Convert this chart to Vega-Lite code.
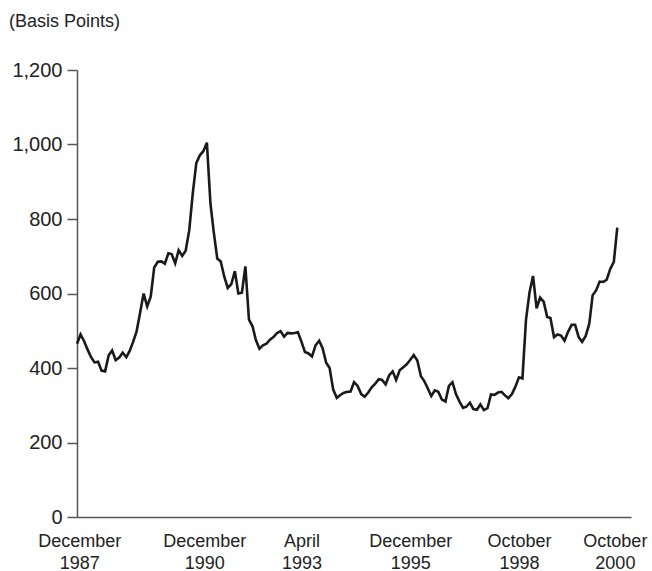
{
  "$schema": "https://vega.github.io/schema/vega-lite/v6.json",
  "autosize": {"type": "none"},
  "padding": {"left": 77, "top": 70, "right": 21, "bottom": 54},
  "width": 554,
  "height": 447,
  "background": "white",
  "title": {
    "text": "(Basis Points)",
    "anchor": "start",
    "frame": "group",
    "dx": -68,
    "offset": 15,
    "baseline": "alphabetic",
    "font": "Liberation Sans",
    "fontSize": 18,
    "fontWeight": "normal",
    "color": "#222222"
  },
  "config": {
    "view": {"stroke": null},
    "axis": {"grid": false, "labelFont": "Liberation Sans", "labelColor": "#222222", "domainColor": "#555555", "tickColor": "#555555", "domainWidth": 1.5, "tickWidth": 1.5}
  },
  "data": {
    "values": [
      {"date": "1987-12-01", "spread": 465}, {"date": "1988-01-01", "spread": 490}, {"date": "1988-02-01", "spread": 472}, {"date": "1988-03-01", "spread": 450},
      {"date": "1988-04-01", "spread": 429}, {"date": "1988-05-01", "spread": 415}, {"date": "1988-06-01", "spread": 417}, {"date": "1988-07-01", "spread": 393},
      {"date": "1988-08-01", "spread": 391}, {"date": "1988-09-01", "spread": 434}, {"date": "1988-10-01", "spread": 447}, {"date": "1988-11-01", "spread": 421},
      {"date": "1988-12-01", "spread": 428}, {"date": "1989-01-01", "spread": 441}, {"date": "1989-02-01", "spread": 429}, {"date": "1989-03-01", "spread": 445},
      {"date": "1989-04-01", "spread": 470}, {"date": "1989-05-01", "spread": 498}, {"date": "1989-06-01", "spread": 549}, {"date": "1989-07-01", "spread": 600},
      {"date": "1989-08-01", "spread": 565}, {"date": "1989-09-01", "spread": 592}, {"date": "1989-10-01", "spread": 670}, {"date": "1989-11-01", "spread": 685},
      {"date": "1989-12-01", "spread": 686}, {"date": "1990-01-01", "spread": 680}, {"date": "1990-02-01", "spread": 708}, {"date": "1990-03-01", "spread": 706},
      {"date": "1990-04-01", "spread": 681}, {"date": "1990-05-01", "spread": 716}, {"date": "1990-06-01", "spread": 701}, {"date": "1990-07-01", "spread": 715},
      {"date": "1990-08-01", "spread": 770}, {"date": "1990-09-01", "spread": 870}, {"date": "1990-10-01", "spread": 950}, {"date": "1990-11-01", "spread": 971},
      {"date": "1990-12-01", "spread": 982}, {"date": "1991-01-01", "spread": 1005}, {"date": "1991-02-01", "spread": 841}, {"date": "1991-03-01", "spread": 766},
      {"date": "1991-04-01", "spread": 694}, {"date": "1991-05-01", "spread": 686}, {"date": "1991-06-01", "spread": 645}, {"date": "1991-07-01", "spread": 615},
      {"date": "1991-08-01", "spread": 625}, {"date": "1991-09-01", "spread": 660}, {"date": "1991-10-01", "spread": 600}, {"date": "1991-11-01", "spread": 602},
      {"date": "1991-12-01", "spread": 673}, {"date": "1992-01-01", "spread": 530}, {"date": "1992-02-01", "spread": 512}, {"date": "1992-03-01", "spread": 475},
      {"date": "1992-04-01", "spread": 452}, {"date": "1992-05-01", "spread": 461}, {"date": "1992-06-01", "spread": 465}, {"date": "1992-07-01", "spread": 476},
      {"date": "1992-08-01", "spread": 483}, {"date": "1992-09-01", "spread": 494}, {"date": "1992-10-01", "spread": 499}, {"date": "1992-11-01", "spread": 484},
      {"date": "1992-12-01", "spread": 494}, {"date": "1993-01-01", "spread": 493}, {"date": "1993-02-01", "spread": 494}, {"date": "1993-03-01", "spread": 496},
      {"date": "1993-04-01", "spread": 470}, {"date": "1993-05-01", "spread": 443}, {"date": "1993-06-01", "spread": 439}, {"date": "1993-07-01", "spread": 431},
      {"date": "1993-08-01", "spread": 461}, {"date": "1993-09-01", "spread": 473}, {"date": "1993-10-01", "spread": 453}, {"date": "1993-11-01", "spread": 414},
      {"date": "1993-12-01", "spread": 400}, {"date": "1994-01-01", "spread": 342}, {"date": "1994-02-01", "spread": 320}, {"date": "1994-03-01", "spread": 327},
      {"date": "1994-04-01", "spread": 333}, {"date": "1994-05-01", "spread": 336}, {"date": "1994-06-01", "spread": 337}, {"date": "1994-07-01", "spread": 362},
      {"date": "1994-08-01", "spread": 352}, {"date": "1994-09-01", "spread": 330}, {"date": "1994-10-01", "spread": 323}, {"date": "1994-11-01", "spread": 334},
      {"date": "1994-12-01", "spread": 348}, {"date": "1995-01-01", "spread": 358}, {"date": "1995-02-01", "spread": 370}, {"date": "1995-03-01", "spread": 368},
      {"date": "1995-04-01", "spread": 356}, {"date": "1995-05-01", "spread": 380}, {"date": "1995-06-01", "spread": 391}, {"date": "1995-07-01", "spread": 368},
      {"date": "1995-08-01", "spread": 394}, {"date": "1995-09-01", "spread": 402}, {"date": "1995-10-01", "spread": 410}, {"date": "1995-11-01", "spread": 422},
      {"date": "1995-12-01", "spread": 435}, {"date": "1996-01-01", "spread": 420}, {"date": "1996-02-01", "spread": 378}, {"date": "1996-03-01", "spread": 365},
      {"date": "1996-04-01", "spread": 345}, {"date": "1996-05-01", "spread": 325}, {"date": "1996-06-01", "spread": 340}, {"date": "1996-07-01", "spread": 336},
      {"date": "1996-08-01", "spread": 315}, {"date": "1996-09-01", "spread": 310}, {"date": "1996-10-01", "spread": 352}, {"date": "1996-11-01", "spread": 362},
      {"date": "1996-12-01", "spread": 330}, {"date": "1997-01-01", "spread": 310}, {"date": "1997-02-01", "spread": 293}, {"date": "1997-03-01", "spread": 296},
      {"date": "1997-04-01", "spread": 307}, {"date": "1997-05-01", "spread": 290}, {"date": "1997-06-01", "spread": 288}, {"date": "1997-07-01", "spread": 302},
      {"date": "1997-08-01", "spread": 287}, {"date": "1997-09-01", "spread": 292}, {"date": "1997-10-01", "spread": 329}, {"date": "1997-11-01", "spread": 328},
      {"date": "1997-12-01", "spread": 334}, {"date": "1998-01-01", "spread": 336}, {"date": "1998-02-01", "spread": 326}, {"date": "1998-03-01", "spread": 319},
      {"date": "1998-04-01", "spread": 330}, {"date": "1998-05-01", "spread": 350}, {"date": "1998-06-01", "spread": 375}, {"date": "1998-07-01", "spread": 372},
      {"date": "1998-08-01", "spread": 530}, {"date": "1998-09-01", "spread": 604}, {"date": "1998-10-01", "spread": 647}, {"date": "1998-11-01", "spread": 560},
      {"date": "1998-12-01", "spread": 589}, {"date": "1999-01-01", "spread": 578}, {"date": "1999-02-01", "spread": 537}, {"date": "1999-03-01", "spread": 534},
      {"date": "1999-04-01", "spread": 483}, {"date": "1999-05-01", "spread": 490}, {"date": "1999-06-01", "spread": 487}, {"date": "1999-07-01", "spread": 473},
      {"date": "1999-08-01", "spread": 497}, {"date": "1999-09-01", "spread": 516}, {"date": "1999-10-01", "spread": 516}, {"date": "1999-11-01", "spread": 483},
      {"date": "1999-12-01", "spread": 470}, {"date": "2000-01-01", "spread": 486}, {"date": "2000-02-01", "spread": 519}, {"date": "2000-03-01", "spread": 595},
      {"date": "2000-04-01", "spread": 609}, {"date": "2000-05-01", "spread": 632}, {"date": "2000-06-01", "spread": 631}, {"date": "2000-07-01", "spread": 637},
      {"date": "2000-08-01", "spread": 666}, {"date": "2000-09-01", "spread": 685}, {"date": "2000-10-01", "spread": 777}
    ]
  },
  "mark": {"type": "line", "color": "#1a1a1a", "strokeWidth": 2.6, "clip": false},
  "encoding": {
    "x": {
      "field": "date",
      "type": "temporal",
      "scale": {
        "type": "utc",
        "domain": [{"year": 1987, "month": 12, "date": 1, "utc": true}, {"year": 2001, "month": 1, "date": 28, "utc": true}]
      },
      "axis": {
        "title": null,
        "values": [
          {"year": 1987, "month": 12, "date": 20, "utc": true},
          {"year": 1990, "month": 12, "date": 10, "utc": true},
          {"year": 1993, "month": 4, "date": 1, "utc": true},
          {"year": 1995, "month": 11, "date": 1, "utc": true},
          {"year": 1998, "month": 6, "date": 1, "utc": true},
          {"year": 2000, "month": 9, "date": 10, "utc": true}
        ],
        "labelExpr": "{'1987': ['December', '1987'], '1990': ['December', '1990'], '1993': ['April', '1993'], '1995': ['December', '1995'], '1998': ['October', '1998'], '2000': ['October', '2000']}[utcFormat(datum.value, '%Y')]",
        "ticks": false,
        "labelFontSize": 18,
        "labelPadding": 15,
        "labelLineHeight": 22,
        "labelAlign": "center",
        "labelOverlap": false,
        "labelFlush": false
      }
    },
    "y": {
      "field": "spread",
      "type": "quantitative",
      "scale": {"domain": [0, 1200], "nice": false},
      "axis": {
        "title": null,
        "values": [0, 200, 400, 600, 800, 1000, 1200],
        "format": ",d",
        "tickSize": 10,
        "labelFontSize": 20,
        "labelPadding": 5
      }
    }
  }
}
